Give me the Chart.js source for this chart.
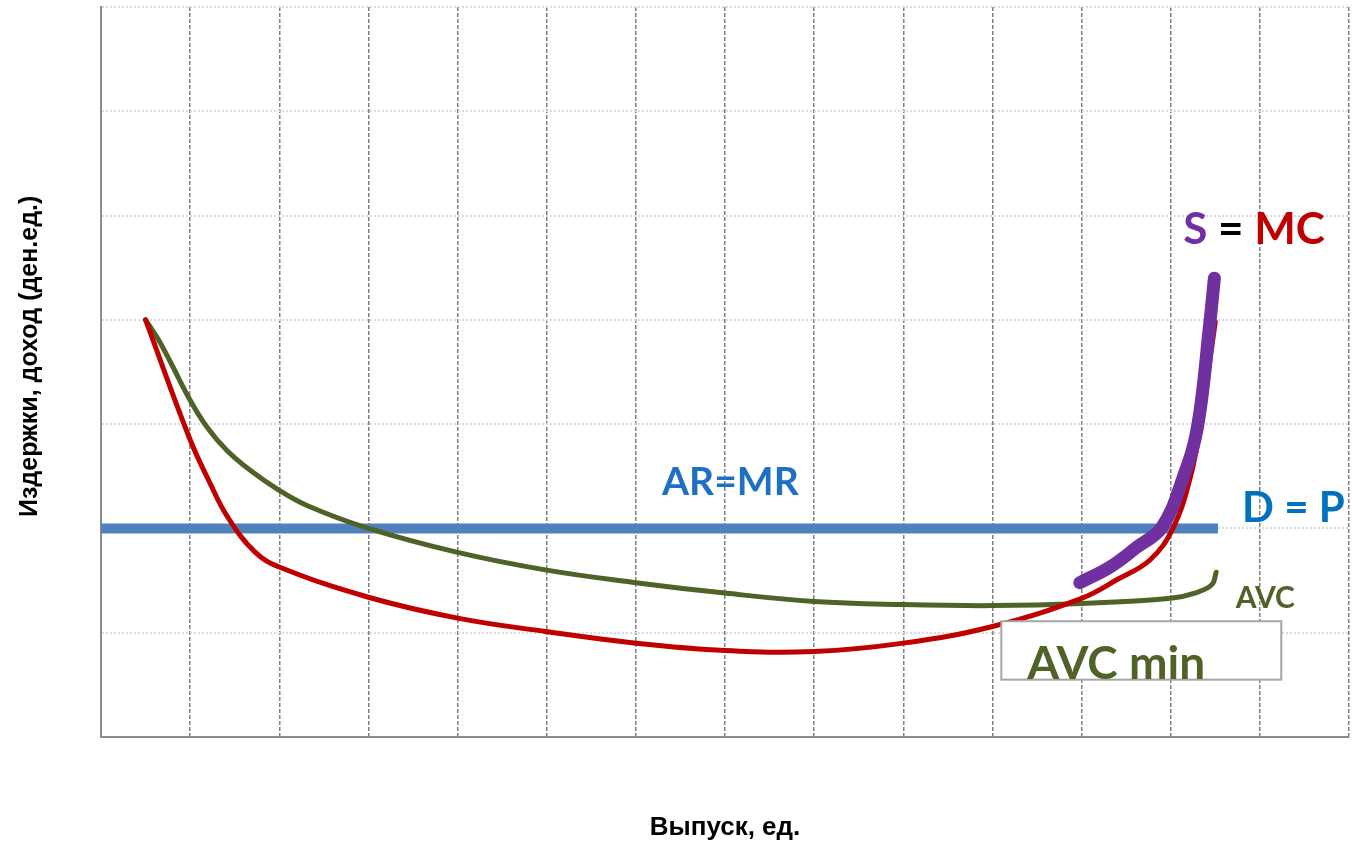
<!DOCTYPE html>
<html>
<head>
<meta charset="utf-8">
<script src="https://cdn.jsdelivr.net/npm/chart.js@4.4.1/dist/chart.umd.min.js"></script>
<style>
  html, body { margin: 0; padding: 0; background: #ffffff; }
  #wrap { width: 1352px; height: 845px; position: relative; }
</style>
</head>
<body>
<div id="wrap"><canvas id="c" width="1352" height="845"></canvas></div>
<script>
// ---- data ----
const xTitle = "Выпуск, ед.";
const yTitle = "Издержки, доход (ден.ед.)";

// MC (red)
const mcX = [0.5, 1.0, 1.22, 1.42, 1.72, 2.0, 3.0, 4.0, 5.0, 6.0, 7.0, 8.0, 9.0, 10.0, 11.0, 11.4, 11.77, 12.03, 12.22, 12.33, 12.5];
const mcY = [4.0, 2.85, 2.44, 2.11, 1.78, 1.63, 1.34, 1.14, 1.01, 0.90, 0.83, 0.82, 0.90, 1.06, 1.33, 1.51, 1.70, 2.01, 2.49, 2.97, 3.98];

// AVC (green)
const avcX = [0.5, 0.63, 0.77, 1.0, 1.19, 1.41, 1.67, 1.99, 2.31, 3.0, 4.0, 5.0, 6.0, 7.0, 8.0, 9.0, 10.0, 11.0, 12.0, 12.27, 12.46, 12.51];
const avcY = [4.0, 3.83, 3.61, 3.23, 2.97, 2.75, 2.56, 2.37, 2.22, 2.0, 1.77, 1.60, 1.48, 1.38, 1.30, 1.27, 1.26, 1.28, 1.33, 1.38, 1.46, 1.58];

// S (purple) – part of MC above AVC min
const sX = [10.98, 11.32, 11.62, 11.90, 12.14, 12.30, 12.44, 12.49];
const sY = [1.48, 1.63, 1.82, 2.01, 2.49, 2.97, 3.98, 4.40];

// D = P (blue horizontal)
const dX = [-0.03, 12.53];
const dY = [2.0, 2.0];

const toPts = (xs, ys) => xs.map((x, i) => ({ x: x, y: ys[i] }));

// ---- annotation plugin (texts placed in data coordinates) ----
const labelPlugin = {
  id: 'labels',
  afterDatasetsDraw(chart) {
    const ctx = chart.ctx;
    const xs = chart.scales.x, ys = chart.scales.y;
    const px = v => xs.getPixelForValue(v);
    const py = v => ys.getPixelForValue(v);
    ctx.save();
    ctx.textBaseline = 'middle';

    // AR=MR
    ctx.font = 'bold 39px Lato';
    ctx.fillStyle = '#1F6FC5';
    ctx.textAlign = 'center';
    ctx.fillText('AR=MR', px(7.06), py(2.44));

    // D = P
    ctx.font = 'bold 42px Lato';
    ctx.fillStyle = '#0070C0';
    ctx.textAlign = 'left';
    ctx.fillText('D = P', px(12.8), py(2.19));

    // S = MC
    ctx.font = 'bold 44px Lato';
    let sx = px(12.14);
    const sy = py(4.86);
    const parts = [['S', '#7030A0'], [' = ', '#000000'], ['MC', '#C00000']];
    for (const [t, c] of parts) {
      ctx.fillStyle = c;
      ctx.fillText(t, sx, sy);
      sx += ctx.measureText(t).width;
    }

    // AVC
    ctx.font = 'bold 30px Lato';
    ctx.fillStyle = '#4F6228';
    ctx.fillText('AVC', px(12.73), py(1.33));

    // AVC min box
    const bx1 = px(10.10), bx2 = px(13.24), by1 = py(1.11), by2 = py(0.55);
    ctx.fillStyle = '#ffffff';
    ctx.fillRect(bx1, by1, bx2 - bx1, by2 - by1);
    ctx.strokeStyle = '#A6A6A6';
    ctx.lineWidth = 2;
    ctx.strokeRect(bx1, by1, bx2 - bx1, by2 - by1);
    ctx.font = 'bold 46px Lato';
    ctx.fillStyle = '#4F6228';
    ctx.textBaseline = 'alphabetic';
    ctx.fillText('AVC min', px(10.39), py(0.56));

    // y-axis title
    ctx.save();
    ctx.translate(30, py(3.65));
    ctx.rotate(-Math.PI / 2);
    ctx.font = 'bold 25px "Liberation Sans"';
    ctx.fillStyle = '#000000';
    ctx.textAlign = 'center';
    ctx.textBaseline = 'middle';
    ctx.fillText(yTitle, 0, 0);
    ctx.restore();

    ctx.restore();
  }
};

new Chart(document.getElementById('c'), {
  type: 'scatter',
  data: {
    datasets: [
      { label: 'D', data: toPts(dX, dY), showLine: true, borderColor: '#4F81BD', borderWidth: 10,
        pointRadius: 0, borderCapStyle: 'butt', order: 4 },
      { label: 'AVC', data: toPts(avcX, avcY), showLine: true, borderColor: '#4F6228', borderWidth: 5,
        pointRadius: 0, tension: 0.4, borderCapStyle: 'round', order: 3 },
      { label: 'MC', data: toPts(mcX, mcY), showLine: true, borderColor: '#C00000', borderWidth: 5,
        pointRadius: 0, tension: 0.4, borderCapStyle: 'round', order: 2 },
      { label: 'S', data: toPts(sX, sY), showLine: true, borderColor: '#7030A0', borderWidth: 13,
        pointRadius: 0, tension: 0.4, borderCapStyle: 'round', borderJoinStyle: 'round', order: 1 }
    ]
  },
  options: {
    responsive: false,
    animation: false,
    devicePixelRatio: 1,
    layout: { padding: { top: 7, right: 3, left: 0, bottom: 0 } },
    plugins: { legend: { display: false }, tooltip: { enabled: false } },
    scales: {
      x: {
        type: 'linear', min: 0, max: 14,
        ticks: { display: false, stepSize: 1 },
        grid: { color: '#808080', lineWidth: 1.5, drawTicks: false },
        border: { display: true, color: '#8C8C8C', width: 2, dash: [4, 2] },
        title: { display: true, text: xTitle, color: '#000000',
                 font: { family: 'Liberation Sans', weight: 'bold', size: 26 }, padding: { top: 0, bottom: 2 } },
        afterFit: s => { s.height = 108; }
      },
      y: {
        type: 'linear', min: 0, max: 7,
        ticks: { display: false, stepSize: 1 },
        grid: { color: '#D5DCE8', lineWidth: 2, drawTicks: false },
        border: { display: true, color: '#8C8C8C', width: 2, dash: [2, 2] },
        title: { display: false },
        afterFit: s => { s.width = 101; }
      }
    }
  },
  plugins: [labelPlugin]
});
</script>
</body>
</html>
